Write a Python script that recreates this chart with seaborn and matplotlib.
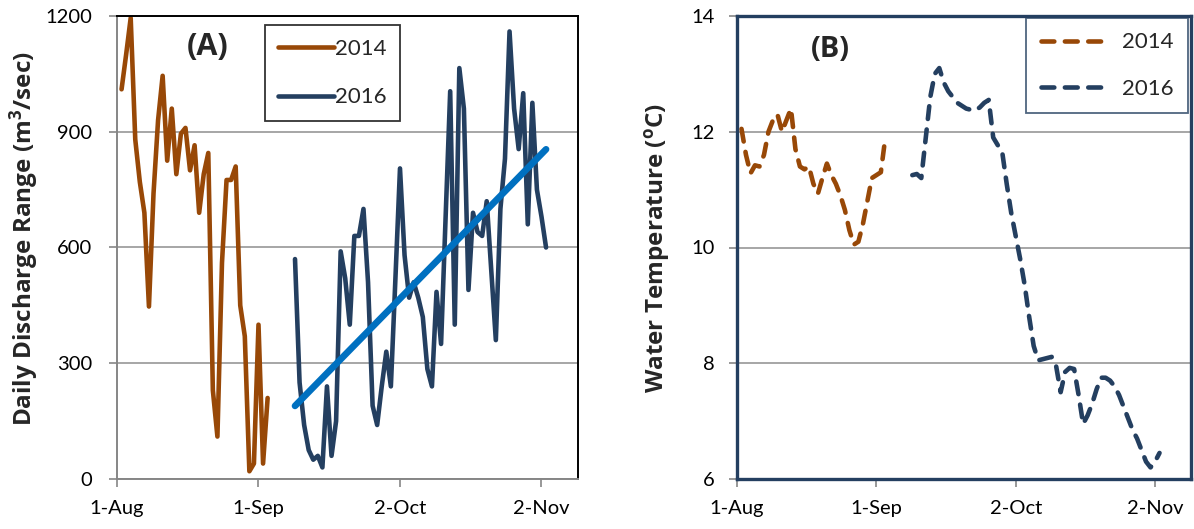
import numpy as np
import pandas as pd
import matplotlib
matplotlib.use("Agg")
import matplotlib.pyplot as plt
import matplotlib.dates as mdates
from matplotlib.lines import Line2D
import seaborn as sns

# ---- data -------------------------------------------------------------
# Both seasons are placed on a common Aug-Nov calendar axis
AXIS_YEAR = 2014
season_start = "08-01"
season_end = "11-10"
tick_days = ["08-01", "09-01", "10-02", "11-02"]

start_2014 = "08-02"
start_2016 = "09-09"

# Daily discharge range (m3/sec)
discharge_2014 = [1010, 1100, 1195, 880, 770, 690, 447, 740, 930, 1045,
                  825, 960, 790, 895, 910, 800, 865, 690, 790, 845,
                  230, 110, 560, 775, 775, 810, 450, 370, 20, 40,
                  400, 40, 210]
discharge_2016 = [570, 250, 140, 75, 50, 60, 30, 240, 60, 150,
                  590, 520, 400, 630, 630, 700, 510, 190, 140, 240,
                  330, 240, 520, 805, 580, 470, 510, 470, 420, 285,
                  240, 485, 350, 680, 1005, 400, 1065, 960, 490, 690,
                  640, 630, 720, 540, 360, 700, 830, 1160, 960, 855,
                  1000, 660, 975, 750, 680, 600]

# Daily water temperature (deg C)
temp_2014 = [12.05, 11.6, 11.28, 11.42, 11.4, 11.6, 12.0, 12.2, 12.3, 12.0,
             12.2, 12.4, 11.7, 11.4, 11.35, 11.4, 11.1, 10.93, 11.2, 11.45,
             11.25, 11.1, 10.9, 10.65, 10.3, 10.05, 10.1, 10.4, 10.8, 11.2,
             11.25, 11.3, 11.9]
temp_2016 = [11.25, 11.27, 11.2, 11.9, 12.6, 13.0, 13.1, 12.85, 12.7, 12.6,
             12.5, 12.45, 12.4, 12.38, 12.37, 12.42, 12.5, 12.55, 11.9, 11.77,
             11.65, 11.1, 10.6, 10.2, 9.8, 9.35, 8.8, 8.3, 8.05, 8.07,
             8.09, 8.11, 7.95, 7.5, 7.85, 7.92, 7.9, 7.45, 6.95, 7.1,
             7.3, 7.55, 7.75, 7.75, 7.7, 7.6, 7.45, 7.25, 7.05, 6.85,
             6.7, 6.5, 6.3, 6.2, 6.3, 6.45]

years = ["2014", "2016"]
colors = {"2014": "#984807", "2016": "#243F60"}
trend_color = "#0070C0"


def season_dates(start, n):
    d = pd.date_range(f"{AXIS_YEAR}-{start}", periods=n, freq="D")
    return mdates.date2num(d.to_pydatetime())


def day_num(md):
    return mdates.date2num(pd.Timestamp(f"{AXIS_YEAR}-{md}").to_pydatetime())


df_q = pd.DataFrame({
    "t": np.concatenate([season_dates(start_2014, len(discharge_2014)),
                         season_dates(start_2016, len(discharge_2016))]),
    "q": discharge_2014 + discharge_2016,
    "year": ["2014"] * len(discharge_2014) + ["2016"] * len(discharge_2016),
})
df_t = pd.DataFrame({
    "t": np.concatenate([season_dates(start_2014, len(temp_2014)),
                         season_dates(start_2016, len(temp_2016))]),
    "temp": temp_2014 + temp_2016,
    "year": ["2014"] * len(temp_2014) + ["2016"] * len(temp_2016),
})

# ---- style ------------------------------------------------------------
sns.set_theme(style="white")
plt.rcParams["font.family"] = ["Lato", "DejaVu Sans"]
plt.rcParams["mathtext.fontset"] = "custom"
plt.rcParams["mathtext.rm"] = "Open Sans"
plt.rcParams["mathtext.bf"] = "Open Sans:bold"
plt.rcParams["mathtext.it"] = "Open Sans:italic"
BOLD = ["Open Sans", "DejaVu Sans"]

GRID = "#A6A6A6"
AXGRAY = "#868686"
NAVY = "#243F60"

fig = plt.figure(figsize=(11.94, 5.29), dpi=100)
axA = fig.add_axes([117 / 1194, 50 / 529, 461 / 1194, 463 / 529])
axB = fig.add_axes([737 / 1194, 50 / 529, 454 / 1194, 463 / 529])

xticks = [day_num(m) for m in tick_days]
for ax in (axA, axB):
    ax.set_xlim(day_num(season_start), day_num(season_end))
    ax.set_xticks(xticks)
    ax.xaxis.set_major_formatter(mdates.DateFormatter("%-d-%b"))
    ax.yaxis.grid(True, color=GRID, lw=1.4)
    ax.xaxis.grid(False)
    ax.set_axisbelow(True)
    ax.tick_params(axis="both", which="major", direction="out", length=6,
                   width=1.2, color=AXGRAY, labelsize=14.5, labelcolor="black",
                   bottom=True, left=True)
    ax.tick_params(axis="x", pad=9)

# ---- panel A: discharge range ----------------------------------------
for yr in years:
    sub = df_q[df_q["year"] == yr]
    sns.lineplot(data=sub, x="t", y="q", ax=axA, color=colors[yr],
                 lw=3.3, estimator=None, sort=False, label=yr,
                 solid_capstyle="round", solid_joinstyle="round")

sub16 = df_q[df_q["year"] == "2016"]
sns.regplot(data=sub16, x="t", y="q", ax=axA, scatter=False, ci=None,
            truncate=True,
            line_kws=dict(color=trend_color, lw=4.8, solid_capstyle="round"))

axA.set_ylim(0, 1200)
axA.set_yticks([0, 300, 600, 900, 1200])
axA.tick_params(axis="y", pad=12)
axA.set_xlabel("")
axA.set_ylabel(r"Daily Discharge Range (m$^{\mathbf{3}}$/sec)",
               fontsize=17.5, fontweight="bold", family=BOLD)
axA.yaxis.set_label_coords(-0.165, 0.52)
for s in ("top", "right"):
    axA.spines[s].set_color("black")
    axA.spines[s].set_linewidth(1.4)
for s in ("left", "bottom"):
    axA.spines[s].set_color(AXGRAY)
    axA.spines[s].set_linewidth(1.4)
axA.text(0.197, 0.933, "(A)", transform=axA.transAxes, ha="center",
         va="center", fontsize=22, fontweight="bold", family=BOLD)

handlesA = [Line2D([], [], color=colors[y], lw=3.3, solid_capstyle="round")
            for y in years]
legA = axA.legend(handlesA, years, loc="upper left",
                  bbox_to_anchor=(0.321, 0.98), fontsize=16,
                  handlelength=2.5, handletextpad=0.05, labelspacing=1.3,
                  borderpad=0.6, borderaxespad=0, frameon=True, fancybox=False)
legA.get_frame().set_edgecolor("black")
legA.get_frame().set_linewidth(1.3)

# ---- panel B: water temperature --------------------------------------
for yr in years:
    sub = df_t[df_t["year"] == yr]
    sns.lineplot(data=sub, x="t", y="temp", ax=axB, color=colors[yr],
                 lw=3.3, estimator=None, sort=False, linestyle="--")
    ln = axB.lines[-1]
    ln.set_dashes((2.8, 2.3))
    ln.set_dash_capstyle("round")
    ln.set_dash_joinstyle("round")

axB.set_ylim(6, 14)
axB.set_yticks([6, 8, 10, 12, 14])
axB.tick_params(axis="y", pad=10)
axB.set_xlabel("")
axB.set_ylabel(r"Water Temperature ($^{\mathbf{o}}$C)",
               fontsize=17.5, fontweight="bold", family=BOLD)
axB.yaxis.set_label_coords(-0.140, 0.50)
for s in axB.spines.values():
    s.set_color(NAVY)
    s.set_linewidth(2.4)
axB.text(0.205, 0.927, "(B)", transform=axB.transAxes, ha="center",
         va="center", fontsize=21, fontweight="bold", family=BOLD)

handlesB = []
for y in years:
    h = Line2D([], [], color=colors[y], lw=3.3, linestyle="--",
               dash_capstyle="round")
    h.set_dashes((2.8, 2.3))
    handlesB.append(h)
legB = axB.legend(handlesB, years, loc="upper right",
                  bbox_to_anchor=(0.993, 0.996), fontsize=16,
                  handlelength=2.85, handletextpad=0.8, labelspacing=1.2,
                  borderpad=0.65, borderaxespad=0, frameon=True, fancybox=False)
legB.get_frame().set_edgecolor(NAVY)
legB.get_frame().set_linewidth(1.3)

fig.savefig("out.png", dpi=100, facecolor="white")
